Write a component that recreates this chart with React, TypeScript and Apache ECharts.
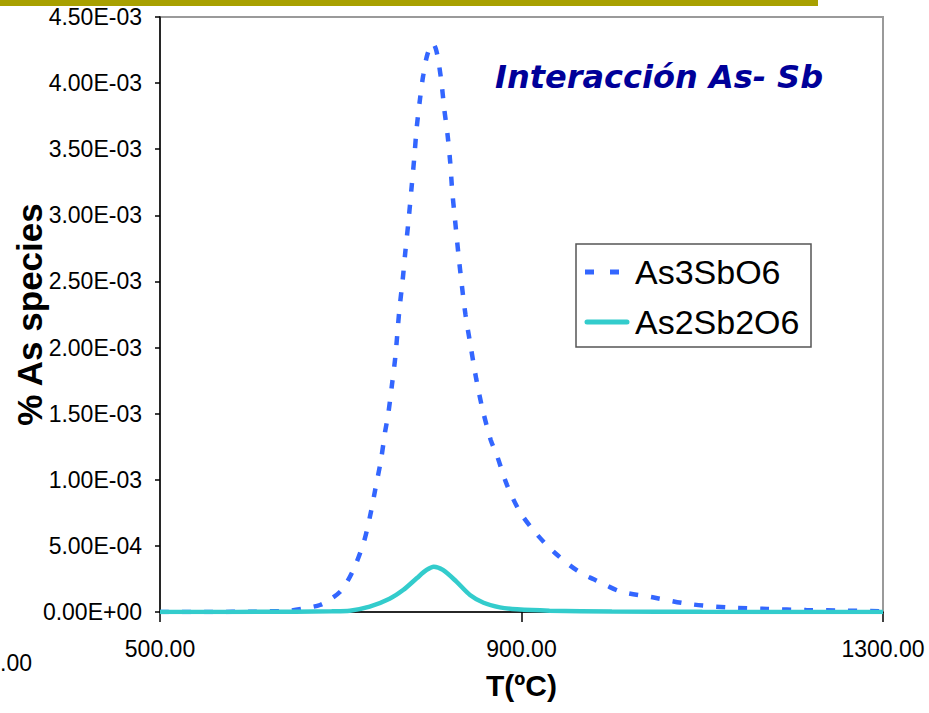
import React, { useEffect, useRef } from "react";
import * as echarts from "echarts";

// Temperature (ºC) and % As species (x1e-3)
const as3SbO6T = [500, 560, 600, 620, 644, 662, 677, 688, 701, 714, 726, 733.5, 738, 744.5, 749, 752.6, 756.7, 760.4, 764.8, 768.5, 771.4, 774.7, 778.5, 781.4, 784, 787.7, 791.3, 796, 802, 806, 811, 814.6, 818, 821, 823.4, 826.4, 830, 834, 838, 844, 850, 857, 866, 872.5, 884, 898, 913, 926, 939, 953, 967, 980, 993, 1010, 1045, 1086, 1127, 1172, 1215, 1259, 1300];
const as3SbO6V = [0, 0.0005, 0.002, 0.005, 0.01, 0.03, 0.053, 0.094, 0.166, 0.32, 0.54, 0.76, 0.92, 1.15, 1.36, 1.5, 1.72, 1.93, 2.28, 2.51, 2.72, 2.94, 3.22, 3.44, 3.66, 3.88, 4.06, 4.22, 4.3, 4.24, 4.03, 3.8, 3.62, 3.41, 3.18, 2.97, 2.72, 2.47, 2.25, 2.0, 1.76, 1.53, 1.3, 1.19, 0.96, 0.76, 0.62, 0.52, 0.435, 0.355, 0.29, 0.247, 0.204, 0.154, 0.111, 0.06, 0.035, 0.023, 0.015, 0.01, 0.005];

const as2Sb2O6T = [500, 650, 690, 710, 732, 754, 769, 784, 795, 803, 813, 828, 843, 858, 876, 895, 931, 1000, 1100, 1300];
const as2Sb2O6V = [0, 0.002, 0.006, 0.01, 0.04, 0.1, 0.166, 0.255, 0.318, 0.343, 0.318, 0.23, 0.129, 0.07, 0.035, 0.02, 0.01, 0.004, 0.001, 0];

const seriesNames = ["As3SbO6", "As2Sb2O6"];
const seriesColors = ["#3366ff", "#33cccc"];
const xTicks = [500, 900, 1300];
const yMax = 0.0045;
const yStep = 0.0005;
const titleText = "Interacción As- Sb";
const xName = "T(ºC)";
const yName = "% As species";
const strayLabel = ".00";

function toPairs(t: number[], v: number[]) {
  return t.map((x, i) => [x, v[i] * 1e-3]);
}

function fmtExp(v: number) {
  const s = v.toExponential(2); // e.g. 4.50e-3
  const m = s.match(/^(-?[\d.]+)e([+-])(\d+)$/);
  if (!m) return s;
  const exp = m[3].padStart(2, "0");
  return `${m[1]}E${m[2]}${exp}`;
}

const FONT = '"Liberation Sans", Arial, sans-serif';

export default function App() {
  const ref = useRef<HTMLDivElement>(null);
  useEffect(() => {
    if (!ref.current) return;
    const chart = echarts.init(ref.current, undefined, { renderer: "svg" });
    const legendX = 576, legendY = 244, legendW = 235, legendH = 103;
    const rowY = [272, 322];
    chart.setOption({
      animation: false,
      backgroundColor: "#ffffff",
      title: {
        text: titleText,
        left: 495,
        top: 61,
        padding: 0,
        textStyle: {
          fontFamily: '"DejaVu Sans", Verdana, sans-serif',
          fontSize: 32,
          fontWeight: "bold",
          fontStyle: "italic",
          color: "#000099",
        },
      },
      grid: {
        left: 160,
        right: 46,
        top: 17,
        bottom: 101,
        show: true,
        containLabel: false,
        outerBoundsMode: "none",
        borderColor: "#9a9a9a",
        borderWidth: 2,
        backgroundColor: "transparent",
      },
      xAxis: {
        type: "value",
        min: 500,
        max: 1300,
        interval: 400,
        name: xName,
        nameLocation: "middle",
        nameGap: 58,
        nameMoveOverlap: false,
        nameTextStyle: { fontFamily: FONT, fontSize: 30, fontWeight: "bold", color: "#000" },
        axisLine: { show: true, onZero: false, lineStyle: { color: "#000", width: 1.5 } },
        axisTick: { show: true, inside: false, length: 10, lineStyle: { color: "#000", width: 1.5 } },
        axisLabel: {
          margin: 25,
          fontFamily: FONT,
          fontSize: 23,
          color: "#000",
          formatter: (v: number) => (xTicks.includes(v) ? v.toFixed(2) : ""),
        },
        splitLine: { show: false },
      },
      yAxis: {
        type: "value",
        min: 0,
        max: yMax,
        interval: yStep,
        name: yName,
        nameLocation: "middle",
        nameRotate: 90,
        nameGap: 113,
        nameMoveOverlap: false,
        nameTextStyle: { fontFamily: FONT, fontSize: 35, fontWeight: "bold", color: "#000" },
        axisLine: { show: true, lineStyle: { color: "#000", width: 1.5 } },
        axisTick: { show: true, inside: false, length: 5, lineStyle: { color: "#000", width: 1.5 } },
        axisLabel: {
          margin: 18,
          fontFamily: FONT,
          fontSize: 23,
          color: "#000",
          formatter: (v: number) => fmtExp(v),
        },
        splitLine: { show: false },
      },
      series: [
        {
          name: seriesNames[0],
          type: "line",
          data: toPairs(as3SbO6T, as3SbO6V),
          symbol: "none",
          smooth: 0.3,
          lineStyle: { color: seriesColors[0], width: 4.5, type: [9, 13] },
          z: 3,
        },
        {
          name: seriesNames[1],
          type: "line",
          data: toPairs(as2Sb2O6T, as2Sb2O6V),
          symbol: "none",
          smooth: 0.3,
          lineStyle: { color: seriesColors[1], width: 4.5 },
          z: 4,
        },
      ],
      graphic: [
        {
          type: "rect",
          shape: { x: 0, y: 0, width: 818, height: 6 },
          style: { fill: "#a8a000" },
          silent: true,
        },
        {
          type: "text",
          x: 0,
          y: 663,
          style: { text: strayLabel, fontFamily: FONT, fontSize: 23, fill: "#000", verticalAlign: "middle", align: "left" },
          silent: true,
        },
        {
          type: "rect",
          shape: { x: legendX, y: legendY, width: legendW, height: legendH },
          style: { fill: "#fff", stroke: "#555", lineWidth: 1.5 },
          z: 10,
        },
        {
          type: "line",
          shape: { x1: 585, y1: rowY[0], x2: 620, y2: rowY[0] },
          style: { stroke: seriesColors[0], lineWidth: 5, lineDash: [9, 16] },
          z: 11,
        },
        {
          type: "line",
          shape: { x1: 587, y1: rowY[1], x2: 627, y2: rowY[1] },
          style: { stroke: seriesColors[1], lineWidth: 5, lineCap: "round" },
          z: 11,
        },
        {
          type: "text",
          x: 635,
          y: rowY[0],
          style: { text: seriesNames[0], fontFamily: FONT, fontSize: 34, fill: "#000", verticalAlign: "middle", align: "left" },
          z: 11,
        },
        {
          type: "text",
          x: 635,
          y: rowY[1],
          style: { text: seriesNames[1], fontFamily: FONT, fontSize: 34, fill: "#000", verticalAlign: "middle", align: "left" },
          z: 11,
        },
      ],
    });
    return () => chart.dispose();
  }, []);
  return (
    <div
      ref={ref}
      style={{ position: "fixed", left: 0, top: 0, width: 929, height: 713, background: "#fff" }}
    />
  );
}
